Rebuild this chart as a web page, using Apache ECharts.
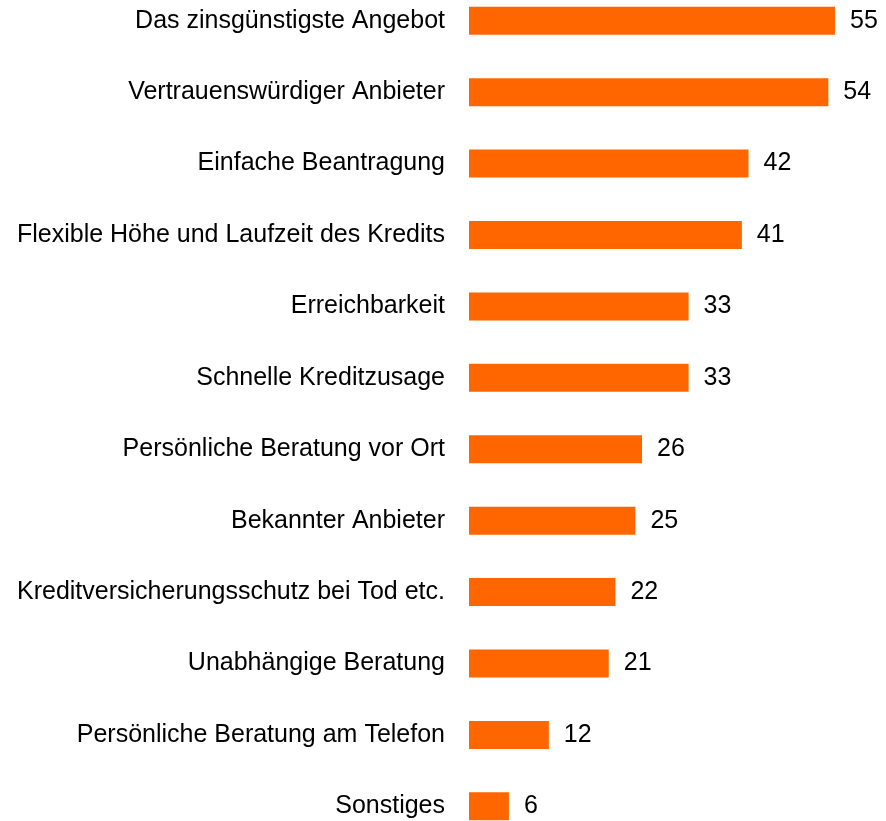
<!DOCTYPE html>
<html><head><meta charset="utf-8">
<script src="https://cdn.jsdelivr.net/npm/echarts@6/dist/echarts.min.js"></script>
<style>html,body{margin:0;padding:0;background:#fff;overflow:hidden;width:886px;height:821px}#c{position:absolute;left:0;top:-15px;width:886px;height:857px}</style>
</head><body><div id="c"></div>
<script>
var categories = ["Das zinsgünstigste Angebot","Vertrauenswürdiger Anbieter","Einfache Beantragung","Flexible Höhe und Laufzeit des Kredits","Erreichbarkeit","Schnelle Kreditzusage","Persönliche Beratung vor Ort","Bekannter Anbieter","Kreditversicherungsschutz bei Tod etc.","Unabhängige Beratung","Persönliche Beratung am Telefon","Sonstiges"];
var values = [55,54,42,41,33,33,26,25,22,21,12,6];
var chart = echarts.init(document.getElementById('c'));
var FONT = 'Liberation Sans';
chart.setOption({
  animation:false,
  grid:{left:469, top:0, width:399.3, height:857, containLabel:false},
  xAxis:{type:'value', min:0, max:60, show:false},
  yAxis:{type:'category', data:categories, inverse:true,
    axisLine:{show:false}, axisTick:{show:false}, splitLine:{show:false},
    axisLabel:{margin:24, fontFamily:FONT, fontSize:25, color:'#000'}},
  series:[{type:'bar', data:values, barWidth:28,
    itemStyle:{color:'#FF6600'},
    label:{show:true, position:'right', distance:15, fontFamily:FONT, fontSize:25, color:'#000'}}]
});
</script></body></html>
